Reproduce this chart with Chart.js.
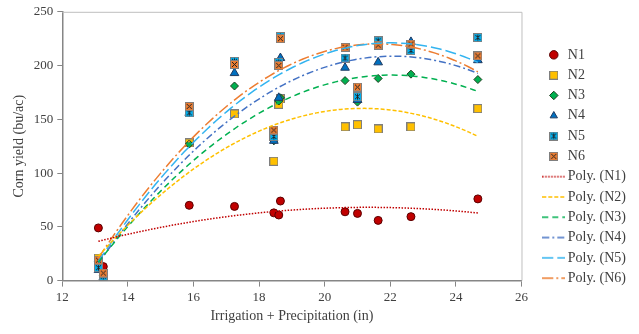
<!DOCTYPE html>
<html>
<head>
<meta charset="utf-8">
<script src="https://cdn.jsdelivr.net/npm/chart.js@4.4.1/dist/chart.umd.min.js"></script>
<style>
  html, body { margin: 0; padding: 0; background: #fff; }
  #wrap { width: 639px; height: 334px; }
</style>
</head>
<body>
<div id="wrap"><canvas id="grafico" width="639" height="334"></canvas></div>
<script>
// irrigation + precipitation (in), same for every N rate
const xIrrig = [13.1, 13.25, 15.87, 17.25, 18.45, 18.6, 18.65, 20.62, 21.0, 21.63, 22.63, 24.67];
const yN1 = [49, 13, 70, 69, 63, 61, 74, 64, 62.5, 56, 59.5, 76];
const yN2 = [21, 6, 128, 155, 111, 164, 169, 143, 145, 141, 143, 160];
const yN3 = [18, 5, 127, 181, 130, 167, 170, 186, 166, 188, 192, 187];
const yN4 = [10, 3, 156, 193, 130, 170, 207, 198, 168, 203, 222, 205];
const yN5 = [12, 4, 156, 204, 134, 203, 227, 207, 171, 223, 214, 226];
const yN6 = [19, 7, 162, 201, 140, 200, 225, 217, 180, 219, 220, 209];

const nomes = ['N1', 'N2', 'N3', 'N4', 'N5', 'N6'];
const series = [yN1, yN2, yN3, yN4, yN5, yN6];
const xTicks = [12, 14, 16, 18, 20, 22, 24, 26];
const yTicks = [0, 50, 100, 150, 200, 250];

const FONTE = "'Liberation Serif', 'DejaVu Serif', serif";

// marcador quadrado (N2 liso, N5 asterisco, N6 X)
function marcador(cor, tipo) {
    const c = document.createElement('canvas');
    c.width = 9; c.height = 9;
    const g = c.getContext('2d');
    g.fillStyle = cor; g.fillRect(0.5, 0.5, 8, 8);
    g.strokeStyle = '#7f7f7f'; g.lineWidth = 1; g.strokeRect(0.5, 0.5, 8, 8);
    if (tipo) {
        g.strokeStyle = '#222'; g.lineWidth = 1;
        g.beginPath();
        g.moveTo(2, 2); g.lineTo(7, 7); g.moveTo(7, 2); g.lineTo(2, 7);
        if (tipo === 'star') { g.moveTo(4.5, 1.5); g.lineTo(4.5, 7.5); }
        g.stroke();
    }
    return c;
}

const estilos = [
    { cor: '#c00000', borda: '#5a0000', ponto: 'circle', raio: 4 },
    { cor: '#ffc000', borda: '#7f7f7f', ponto: marcador('#ffc000', null), raio: 5 },
    { cor: '#00b050', borda: '#1d3d1d', ponto: 'rectRot', raio: 4 },
    { cor: '#0070c0', borda: '#1f3a60', ponto: 'triangle', raio: 5 },
    { cor: '#00b0f0', borda: '#7f7f7f', ponto: marcador('#00b0f0', 'star'), raio: 5 },
    { cor: '#ed7d31', borda: '#7f7f7f', ponto: marcador('#ed7d31', 'x'), raio: 5 }
];

const linhas = [
    { cor: '#c00000', dash: [1.5, 1.5] },
    { cor: '#ffc000', dash: [4, 2] },
    { cor: '#00b050', dash: [6, 4] },
    { cor: '#4472c4', dash: [7, 3, 2, 3] },
    { cor: '#33b4f0', dash: [11, 4] },
    { cor: '#ed7d31', dash: [11, 3, 2, 3] }
];

// tendencia polinomial de ordem 2 (minimos quadrados), como no Excel
function ajustePoli2(xs, ys) {
    let s = [0, 0, 0, 0, 0], t = [0, 0, 0];
    xs.forEach((x, i) => {
        for (let k = 0; k < 5; k++) s[k] += Math.pow(x, k);
        for (let k = 0; k < 3; k++) t[k] += ys[i] * Math.pow(x, k);
    });
    const A = [[s[0], s[1], s[2], t[0]], [s[1], s[2], s[3], t[1]], [s[2], s[3], s[4], t[2]]];
    for (let i = 0; i < 3; i++) {
        for (let j = i + 1; j < 3; j++) {
            const f = A[j][i] / A[i][i];
            for (let k = i; k < 4; k++) A[j][k] -= f * A[i][k];
        }
    }
    const c = [0, 0, 0];
    for (let i = 2; i >= 0; i--) {
        let v = A[i][3];
        for (let k = i + 1; k < 3; k++) v -= A[i][k] * c[k];
        c[i] = v / A[i][i];
    }
    return c;
}

function curva(xs, ys) {
    const c = ajustePoli2(xs, ys);
    const xMin = Math.min(...xs), xMax = Math.max(...xs);
    const pts = [];
    for (let i = 0; i <= 80; i++) {
        const x = xMin + (xMax - xMin) * i / 80;
        pts.push({ x, y: c[0] + c[1] * x + c[2] * x * x });
    }
    return pts;
}

// icone da linha na legenda
function iconeLinha(cor, dash) {
    const c = document.createElement('canvas');
    c.width = 23; c.height = 4;
    const g = c.getContext('2d');
    g.strokeStyle = cor; g.lineWidth = 1.5; g.setLineDash(dash);
    g.beginPath(); g.moveTo(0, 2); g.lineTo(23, 2); g.stroke();
    return c;
}

const datasets = [];
series.forEach((ys, i) => {
    const e = estilos[i];
    datasets.push({
        label: nomes[i],
        data: xIrrig.map((x, k) => ({ x, y: ys[k] })),
        showLine: false,
        backgroundColor: e.cor,
        borderColor: e.borda,
        borderWidth: 1,
        pointStyle: e.ponto,
        pointRadius: e.raio,
        pointHoverRadius: e.raio,
        order: 20 - i
    });
});
series.forEach((ys, i) => {
    const l = linhas[i];
    datasets.push({
        label: 'Poly. (' + nomes[i] + ')',
        data: curva(xIrrig, ys),
        showLine: true,
        borderColor: l.cor,
        backgroundColor: l.cor,
        borderWidth: 1.5,
        borderDash: l.dash,
        pointRadius: 0,
        pointStyle: iconeLinha(l.cor, l.dash),
        order: 1
    });
});

// borda cinza do topo e da direita da area do grafico
const bordaArea = {
    id: 'bordaArea',
    beforeDatasetsDraw(chart) {
        const { ctx, chartArea: a } = chart;
        ctx.save();
        ctx.strokeStyle = '#bfbfbf';
        ctx.lineWidth = 1;
        ctx.beginPath();
        ctx.moveTo(a.left, a.top + 0.5); ctx.lineTo(a.right + 0.5, a.top + 0.5); ctx.lineTo(a.right + 0.5, a.bottom);
        ctx.stroke();
        ctx.restore();
    }
};

new Chart(document.getElementById('grafico'), {
    type: 'scatter',
    data: { datasets },
    options: {
        responsive: false,
        animation: false,
        layout: { padding: { top: 7, right: 3, left: 7, bottom: 8 } },
        plugins: {
            tooltip: { enabled: false },
            legend: {
                position: 'right',
                labels: {
                    usePointStyle: true,
                    boxWidth: 14, boxHeight: 6,
                    padding: 6.3,
                    color: '#404040',
                    font: { family: FONTE, size: 14 },
                    sort: (a, b) => a.datasetIndex - b.datasetIndex
                }
            }
        },
        scales: {
            x: {
                type: 'linear', min: 12, max: 26,
                afterBuildTicks: ax => { ax.ticks = xTicks.map(v => ({ value: v })); },
                grid: { display: true, drawOnChartArea: false, drawTicks: true, tickLength: 6, color: '#868686' },
                border: { color: '#868686', width: 1.5 },
                ticks: { color: '#404040', font: { family: FONTE, size: 13 }, padding: 3 },
                title: { display: true, text: 'Irrigation + Precipitation (in)', color: '#404040', font: { family: FONTE, size: 14 }, padding: { top: 0, bottom: 1 } }
            },
            y: {
                type: 'linear', min: 0, max: 250,
                afterBuildTicks: ax => { ax.ticks = yTicks.map(v => ({ value: v })); },
                grid: { display: true, drawOnChartArea: false, drawTicks: true, tickLength: 5, color: '#868686' },
                border: { color: '#868686', width: 1.5 },
                ticks: { color: '#404040', font: { family: FONTE, size: 13 }, padding: 4 },
                title: { display: true, text: 'Corn yield (bu/ac)', color: '#404040', font: { family: FONTE, size: 14 }, padding: { bottom: 2 } }
            },
            // eixo vazio so para abrir espaco entre o grafico e a legenda
            espaco: {
                type: 'linear', position: 'right', display: true,
                grid: { display: false }, border: { display: false },
                ticks: { display: false },
                afterFit: ax => { ax.width = 19; }
            }
        }
    },
    plugins: [bordaArea]
});
</script>
</body>
</html>
